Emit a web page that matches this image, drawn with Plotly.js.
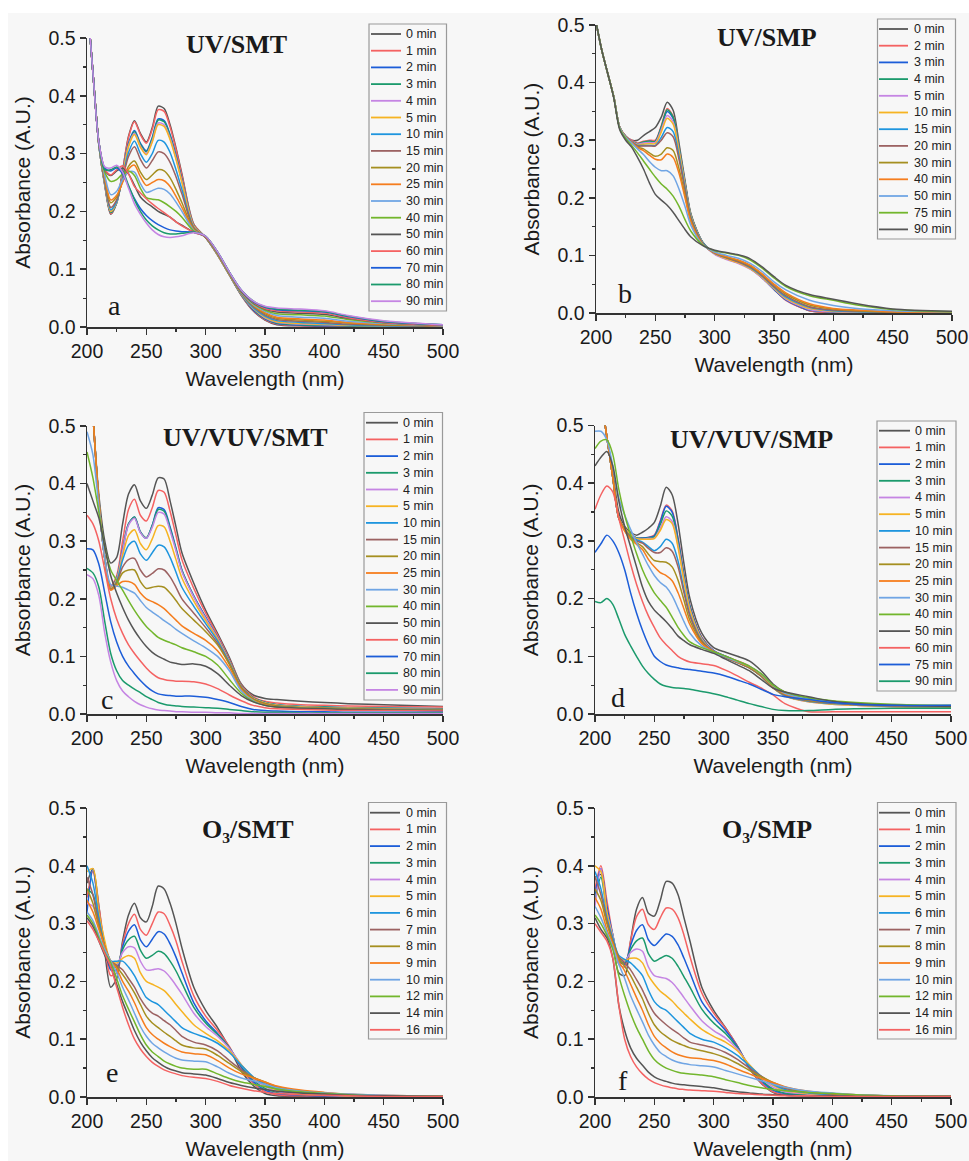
<!DOCTYPE html>
<html><head><meta charset="utf-8">
<script src="https://cdn.plot.ly/plotly-3.0.1.min.js"></script>
<style>html,body{margin:0;padding:0;background:#f7f7f7}</style>
</head><body><div id="chart" style="width:969px;height:1161px"></div>
<script>
// Wavelength grid (nm)
const WL = [200,205,210,215,220,225,230,235,240,245,250,255,260,265,270,275,280,290,300,310,320,330,340,350,360,380,400,420,450,500];

// ---------- (a) UV/SMT ----------
const labelsA = ['0 min','1 min','2 min','3 min','4 min','5 min','10 min','15 min','20 min','25 min','30 min','40 min','50 min','60 min','70 min','80 min','90 min'];
const a_0  = [0.57,0.44,0.315,0.245,0.195,0.215,0.27,0.33,0.357,0.335,0.32, 0.345,0.382,0.378,0.35,0.31,0.265, 0.178,0.155,0.125,0.09,0.055,0.028,0.012,0.004, 0.002,0.001,0.001,0.001,0.001];
const a_1  = [0.57,0.44,0.315,0.245,0.196,0.215,0.27,0.328,0.355,0.333,0.318, 0.342,0.376,0.373,0.346,0.307,0.262, 0.177,0.155,0.125,0.09,0.055,0.029,0.013,0.005, 0.002,0.002,0.001,0.001,0.001];
const a_2  = [0.57,0.44,0.315,0.247,0.198,0.215,0.265,0.318,0.34,0.318,0.305, 0.328,0.36,0.357,0.333,0.297,0.255, 0.175,0.155,0.125,0.09,0.056,0.03,0.014,0.006, 0.003,0.002,0.002,0.001,0.001];
const a_3  = [0.57,0.44,0.315,0.247,0.198,0.215,0.264,0.316,0.338,0.316,0.303, 0.326,0.358,0.355,0.331,0.295,0.254, 0.175,0.155,0.125,0.09,0.056,0.031,0.015,0.007, 0.004,0.003,0.002,0.001,0.001];
const a_4  = [0.57,0.44,0.315,0.248,0.2,0.216,0.263,0.314,0.335,0.313,0.3, 0.322,0.353,0.35,0.327,0.292,0.252, 0.174,0.155,0.125,0.09,0.057,0.032,0.016,0.008, 0.005,0.004,0.003,0.002,0.001];
const a_5  = [0.57,0.44,0.315,0.248,0.2,0.216,0.262,0.312,0.333,0.311,0.298, 0.32,0.35,0.347,0.324,0.29,0.25, 0.174,0.155,0.125,0.09,0.057,0.033,0.017,0.009, 0.006,0.005,0.003,0.002,0.001];
const a_10 = [0.57,0.44,0.316,0.25,0.203,0.217,0.258,0.302,0.322,0.3,0.285, 0.3,0.323,0.32,0.302,0.272,0.238, 0.172,0.155,0.126,0.091,0.058,0.034,0.019,0.011, 0.008,0.006,0.004,0.002,0.001];
const a_15 = [0.57,0.44,0.317,0.252,0.207,0.22,0.256,0.295,0.312,0.29,0.275, 0.288,0.303,0.3,0.285,0.26,0.23, 0.171,0.155,0.126,0.091,0.059,0.036,0.021,0.013, 0.01,0.008,0.005,0.003,0.001];
const a_20 = [0.57,0.44,0.318,0.256,0.215,0.225,0.252,0.278,0.287,0.268,0.255, 0.263,0.272,0.27,0.258,0.238,0.215, 0.169,0.155,0.127,0.092,0.06,0.037,0.023,0.015, 0.012,0.01,0.007,0.004,0.002];
const a_25 = [0.57,0.44,0.318,0.258,0.22,0.228,0.25,0.273,0.28,0.26,0.245, 0.25,0.255,0.253,0.243,0.226,0.207, 0.168,0.156,0.127,0.092,0.06,0.038,0.025,0.017, 0.014,0.012,0.008,0.005,0.002];
const a_30 = [0.57,0.44,0.319,0.262,0.229,0.235,0.255,0.268,0.268,0.248,0.233, 0.236,0.24,0.238,0.23,0.216,0.2, 0.167,0.156,0.128,0.093,0.061,0.039,0.027,0.02, 0.017,0.015,0.01,0.006,0.002];
const a_40 = [0.57,0.44,0.32,0.268,0.252,0.255,0.265,0.27,0.262,0.24,0.224, 0.221,0.22,0.215,0.208,0.2,0.19, 0.166,0.156,0.128,0.093,0.062,0.041,0.029,0.023, 0.021,0.019,0.013,0.007,0.003];
const a_50 = [0.57,0.44,0.32,0.272,0.262,0.27,0.275,0.265,0.245,0.225,0.215, 0.208,0.2,0.195,0.19,0.182,0.176, 0.164,0.156,0.129,0.094,0.062,0.042,0.031,0.026, 0.024,0.022,0.015,0.008,0.003];
const a_60 = [0.57,0.44,0.32,0.273,0.263,0.272,0.279,0.265,0.243,0.232,0.222, 0.213,0.205,0.198,0.19,0.182,0.175, 0.164,0.156,0.129,0.094,0.063,0.043,0.032,0.028, 0.026,0.024,0.016,0.008,0.003];
const a_70 = [0.57,0.44,0.32,0.275,0.27,0.275,0.265,0.243,0.222,0.205,0.193, 0.184,0.177,0.172,0.168,0.166,0.165, 0.164,0.157,0.13,0.095,0.064,0.044,0.034,0.03, 0.028,0.026,0.018,0.009,0.004];
const a_80 = [0.57,0.44,0.32,0.272,0.272,0.277,0.27,0.245,0.22,0.2,0.185, 0.175,0.168,0.163,0.161,0.161,0.162, 0.164,0.157,0.13,0.095,0.064,0.045,0.035,0.031, 0.029,0.027,0.019,0.01,0.004];
const a_90 = [0.57,0.44,0.32,0.277,0.275,0.28,0.268,0.24,0.213,0.195,0.18, 0.168,0.16,0.156,0.155,0.156,0.158, 0.163,0.157,0.13,0.095,0.064,0.045,0.036,0.033, 0.031,0.028,0.02,0.011,0.004];
const seriesA = [a_0,a_1,a_2,a_3,a_4,a_5,a_10,a_15,a_20,a_25,a_30,a_40,a_50,a_60,a_70,a_80,a_90];

// ---------- (b) UV/SMP ----------
const labelsB = ['0 min','2 min','3 min','4 min','5 min','10 min','15 min','20 min','30 min','40 min','50 min','75 min','90 min'];
const b_0  = [0.505,0.455,0.415,0.375,0.322,0.307,0.3,0.3,0.308,0.315,0.322, 0.34,0.366,0.352,0.294,0.23,0.172, 0.123,0.104,0.095,0.088,0.078,0.062,0.042,0.023, 0.004,0.001,0.001,0.001,0.001];
const b_2  = [0.505,0.455,0.415,0.375,0.322,0.307,0.3,0.295,0.298,0.3,0.3, 0.325,0.355,0.342,0.288,0.227,0.17, 0.122,0.103,0.094,0.087,0.077,0.061,0.041,0.022, 0.004,0.001,0.001,0.001,0.001];
const b_3  = [0.505,0.455,0.415,0.375,0.322,0.307,0.298,0.293,0.296,0.298,0.298, 0.322,0.35,0.338,0.285,0.225,0.169, 0.122,0.103,0.094,0.087,0.077,0.061,0.041,0.023, 0.005,0.002,0.001,0.001,0.001];
const b_4  = [0.505,0.455,0.415,0.375,0.322,0.307,0.298,0.294,0.297,0.298,0.298, 0.323,0.353,0.34,0.287,0.226,0.17, 0.122,0.103,0.094,0.087,0.077,0.062,0.042,0.024, 0.006,0.002,0.001,0.001,0.001];
const b_5  = [0.505,0.455,0.415,0.375,0.322,0.307,0.298,0.293,0.295,0.296,0.296, 0.318,0.343,0.332,0.282,0.223,0.168, 0.121,0.102,0.093,0.086,0.076,0.061,0.042,0.024, 0.006,0.002,0.001,0.001,0.001];
const b_10 = [0.505,0.455,0.415,0.375,0.322,0.306,0.297,0.292,0.293,0.294,0.294, 0.314,0.338,0.328,0.28,0.222,0.168, 0.121,0.103,0.094,0.087,0.077,0.062,0.043,0.026, 0.008,0.003,0.002,0.001,0.001];
const b_15 = [0.505,0.455,0.415,0.375,0.322,0.306,0.297,0.291,0.291,0.291,0.291, 0.305,0.322,0.315,0.272,0.218,0.166, 0.121,0.104,0.096,0.089,0.079,0.064,0.045,0.028, 0.01,0.004,0.002,0.001,0.001];
const b_20 = [0.505,0.455,0.415,0.375,0.322,0.306,0.297,0.29,0.29,0.29,0.29, 0.3,0.313,0.306,0.266,0.214,0.164, 0.12,0.104,0.096,0.089,0.08,0.065,0.046,0.03, 0.011,0.005,0.003,0.001,0.001];
const b_30 = [0.505,0.455,0.415,0.375,0.322,0.306,0.296,0.288,0.285,0.278,0.272, 0.276,0.287,0.282,0.25,0.205,0.16, 0.119,0.105,0.097,0.091,0.082,0.067,0.049,0.033, 0.014,0.007,0.004,0.002,0.001];
const b_40 = [0.505,0.455,0.415,0.375,0.322,0.306,0.296,0.287,0.282,0.274,0.267, 0.266,0.276,0.27,0.242,0.2,0.158, 0.119,0.105,0.098,0.092,0.083,0.068,0.05,0.035, 0.016,0.008,0.005,0.002,0.001];
const b_50 = [0.505,0.455,0.415,0.375,0.322,0.305,0.295,0.285,0.275,0.263,0.253, 0.247,0.247,0.238,0.215,0.185,0.152, 0.118,0.106,0.1,0.095,0.086,0.072,0.054,0.04, 0.022,0.013,0.008,0.004,0.002];
const b_75 = [0.505,0.455,0.415,0.374,0.32,0.303,0.291,0.278,0.264,0.25,0.236, 0.224,0.215,0.203,0.185,0.162,0.142, 0.118,0.108,0.104,0.1,0.092,0.078,0.061,0.046, 0.03,0.022,0.014,0.006,0.002];
const b_90 = [0.505,0.455,0.415,0.373,0.318,0.3,0.288,0.27,0.25,0.226,0.206, 0.196,0.187,0.175,0.16,0.145,0.132, 0.117,0.109,0.105,0.101,0.094,0.08,0.063,0.048, 0.032,0.024,0.016,0.007,0.003];
const seriesB = [b_0,b_2,b_3,b_4,b_5,b_10,b_15,b_20,b_30,b_40,b_50,b_75,b_90];

// ---------- (c) UV/VUV/SMT ----------
const labelsC = ['0 min','1 min','2 min','3 min','4 min','5 min','10 min','15 min','20 min','25 min','30 min','40 min','50 min','60 min','70 min','80 min','90 min'];
const c_0  = [0.7,0.52,0.38,0.3,0.262,0.272,0.33,0.382,0.398,0.37,0.357, 0.38,0.41,0.408,0.37,0.325,0.28, 0.227,0.18,0.14,0.098,0.052,0.033,0.027,0.025, 0.022,0.02,0.018,0.016,0.013];
const c_1  = [0.7,0.52,0.37,0.27,0.222,0.24,0.3,0.355,0.373,0.345,0.335, 0.358,0.388,0.385,0.352,0.31,0.268, 0.218,0.175,0.137,0.095,0.05,0.03,0.022,0.019, 0.016,0.015,0.014,0.013,0.012];
const c_2  = [0.7,0.52,0.37,0.27,0.218,0.235,0.285,0.33,0.342,0.316,0.305, 0.328,0.358,0.355,0.325,0.288,0.25, 0.205,0.168,0.133,0.092,0.048,0.028,0.02,0.016, 0.013,0.012,0.011,0.01,0.009];
const c_3  = [0.7,0.52,0.37,0.27,0.218,0.235,0.285,0.33,0.342,0.316,0.306, 0.327,0.355,0.352,0.322,0.286,0.249, 0.204,0.167,0.132,0.092,0.048,0.028,0.02,0.016, 0.013,0.012,0.011,0.01,0.009];
const c_4  = [0.7,0.52,0.37,0.27,0.218,0.234,0.283,0.328,0.34,0.315,0.305, 0.324,0.35,0.347,0.318,0.283,0.247, 0.203,0.166,0.132,0.091,0.047,0.027,0.019,0.015, 0.012,0.011,0.01,0.009,0.008];
const c_5  = [0.7,0.52,0.37,0.27,0.218,0.232,0.275,0.31,0.32,0.296,0.285, 0.304,0.327,0.325,0.3,0.268,0.236, 0.196,0.162,0.13,0.09,0.047,0.027,0.019,0.015, 0.012,0.011,0.01,0.009,0.008];
const c_10 = [0.7,0.52,0.37,0.27,0.216,0.23,0.267,0.293,0.3,0.278,0.267, 0.28,0.293,0.29,0.272,0.246,0.22, 0.187,0.157,0.127,0.089,0.046,0.026,0.018,0.014, 0.011,0.01,0.009,0.008,0.008];
const c_15 = [0.7,0.52,0.37,0.27,0.216,0.228,0.255,0.268,0.27,0.25,0.238, 0.244,0.252,0.25,0.238,0.22,0.2, 0.175,0.15,0.123,0.087,0.046,0.026,0.018,0.014, 0.011,0.01,0.009,0.008,0.008];
const c_20 = [0.7,0.52,0.37,0.27,0.216,0.226,0.245,0.25,0.25,0.23,0.218, 0.22,0.222,0.22,0.21,0.197,0.183, 0.163,0.143,0.12,0.086,0.045,0.026,0.018,0.014, 0.011,0.01,0.009,0.008,0.007];
const c_25 = [0.7,0.52,0.37,0.27,0.215,0.223,0.23,0.23,0.225,0.21,0.2, 0.195,0.19,0.183,0.173,0.163,0.153, 0.14,0.128,0.11,0.08,0.042,0.024,0.016,0.012, 0.01,0.009,0.008,0.007,0.007];
const c_30 = [0.49,0.45,0.36,0.27,0.225,0.222,0.22,0.215,0.21,0.197,0.185, 0.177,0.17,0.162,0.155,0.147,0.14, 0.127,0.115,0.1,0.075,0.04,0.023,0.015,0.012, 0.01,0.009,0.008,0.007,0.006];
const c_40 = [0.455,0.41,0.35,0.29,0.25,0.232,0.215,0.197,0.18,0.165,0.152, 0.142,0.133,0.128,0.124,0.12,0.115, 0.108,0.1,0.085,0.06,0.036,0.022,0.015,0.012, 0.01,0.009,0.008,0.007,0.006];
const c_50 = [0.4,0.37,0.34,0.29,0.24,0.21,0.185,0.163,0.145,0.13,0.117, 0.107,0.1,0.095,0.09,0.088,0.086, 0.087,0.083,0.07,0.05,0.032,0.021,0.015,0.012, 0.01,0.009,0.008,0.007,0.006];
const c_60 = [0.345,0.33,0.3,0.25,0.2,0.165,0.14,0.12,0.105,0.092,0.08, 0.07,0.063,0.06,0.058,0.057,0.057, 0.056,0.052,0.044,0.033,0.023,0.015,0.011,0.009, 0.008,0.007,0.006,0.006,0.005];
const c_70 = [0.287,0.285,0.26,0.21,0.16,0.125,0.1,0.083,0.07,0.058,0.048, 0.04,0.035,0.033,0.032,0.031,0.031, 0.031,0.029,0.025,0.02,0.013,0.008,0.006,0.005, 0.004,0.004,0.003,0.003,0.003];
const c_80 = [0.253,0.245,0.22,0.16,0.105,0.075,0.058,0.05,0.043,0.037,0.03, 0.025,0.02,0.017,0.015,0.014,0.013, 0.012,0.011,0.01,0.008,0.006,0.004,0.003,0.003, 0.002,0.002,0.002,0.002,0.002];
const c_90 = [0.242,0.235,0.205,0.14,0.09,0.058,0.04,0.03,0.022,0.016,0.012, 0.009,0.007,0.006,0.005,0.004,0.004, 0.003,0.003,0.002,0.002,0.001,0.001,0.001,0.001, 0.001,0.001,0.001,0.001,0.001];
const seriesC = [c_0,c_1,c_2,c_3,c_4,c_5,c_10,c_15,c_20,c_25,c_30,c_40,c_50,c_60,c_70,c_80,c_90];

// ---------- (d) UV/VUV/SMP ----------
const labelsD = ['0 min','1 min','2 min','3 min','4 min','5 min','10 min','15 min','20 min','25 min','30 min','40 min','50 min','60 min','75 min','90 min'];
const d_0  = [0.6,0.55,0.48,0.42,0.35,0.325,0.315,0.31,0.315,0.322,0.332, 0.36,0.393,0.38,0.33,0.26,0.2, 0.14,0.115,0.107,0.1,0.092,0.075,0.052,0.038, 0.027,0.022,0.018,0.015,0.013];
const d_1  = [0.6,0.55,0.48,0.41,0.34,0.322,0.312,0.305,0.305,0.306,0.31, 0.335,0.362,0.352,0.305,0.242,0.188, 0.133,0.11,0.1,0.092,0.083,0.068,0.047,0.032, 0.022,0.018,0.015,0.013,0.012];
const d_2  = [0.6,0.55,0.48,0.41,0.34,0.322,0.312,0.305,0.305,0.306,0.309, 0.333,0.36,0.35,0.303,0.24,0.187, 0.132,0.11,0.1,0.091,0.082,0.067,0.046,0.032, 0.022,0.018,0.016,0.014,0.013];
const d_3  = [0.6,0.55,0.48,0.41,0.34,0.322,0.312,0.305,0.304,0.305,0.307, 0.328,0.352,0.343,0.298,0.237,0.185, 0.131,0.109,0.099,0.09,0.081,0.066,0.046,0.032, 0.022,0.018,0.016,0.014,0.013];
const d_4  = [0.6,0.55,0.48,0.41,0.34,0.322,0.311,0.304,0.303,0.304,0.305, 0.322,0.342,0.334,0.292,0.233,0.182, 0.13,0.109,0.099,0.09,0.081,0.066,0.046,0.032, 0.021,0.017,0.015,0.013,0.012];
const d_5  = [0.6,0.55,0.48,0.41,0.34,0.322,0.311,0.304,0.303,0.303,0.304, 0.318,0.337,0.33,0.288,0.23,0.18, 0.129,0.108,0.098,0.089,0.08,0.065,0.045,0.031, 0.021,0.017,0.015,0.013,0.012];
const d_10 = [0.6,0.55,0.48,0.41,0.34,0.32,0.308,0.302,0.298,0.29,0.283, 0.29,0.303,0.296,0.265,0.215,0.172, 0.127,0.108,0.098,0.089,0.08,0.066,0.046,0.032, 0.022,0.018,0.016,0.014,0.013];
const d_15 = [0.6,0.55,0.48,0.41,0.34,0.32,0.307,0.3,0.296,0.287,0.28, 0.28,0.288,0.282,0.255,0.21,0.17, 0.126,0.108,0.098,0.089,0.08,0.066,0.046,0.033, 0.023,0.019,0.016,0.014,0.013];
const d_20 = [0.6,0.55,0.48,0.41,0.34,0.318,0.305,0.297,0.29,0.277,0.266, 0.264,0.263,0.255,0.232,0.197,0.162, 0.124,0.108,0.099,0.09,0.081,0.067,0.047,0.034, 0.024,0.02,0.017,0.015,0.013];
const d_25 = [0.6,0.55,0.48,0.41,0.34,0.317,0.303,0.294,0.285,0.268,0.255, 0.245,0.24,0.231,0.21,0.182,0.155, 0.122,0.108,0.099,0.09,0.082,0.068,0.048,0.035, 0.025,0.021,0.018,0.015,0.014];
const d_30 = [0.49,0.49,0.475,0.43,0.375,0.345,0.32,0.297,0.277,0.257,0.24, 0.228,0.22,0.205,0.183,0.16,0.14, 0.118,0.107,0.099,0.091,0.083,0.069,0.049,0.036, 0.026,0.021,0.018,0.015,0.014];
const d_40 = [0.46,0.473,0.475,0.45,0.39,0.345,0.31,0.278,0.25,0.228,0.21, 0.197,0.185,0.168,0.15,0.136,0.125, 0.115,0.108,0.1,0.092,0.083,0.07,0.05,0.038, 0.028,0.023,0.02,0.017,0.015];
const d_50 = [0.43,0.445,0.455,0.43,0.37,0.325,0.29,0.255,0.22,0.195,0.18, 0.17,0.16,0.148,0.135,0.127,0.12, 0.112,0.105,0.095,0.085,0.075,0.06,0.045,0.038, 0.03,0.022,0.018,0.015,0.013];
const d_60 = [0.355,0.38,0.395,0.385,0.34,0.3,0.26,0.225,0.195,0.17,0.15, 0.132,0.12,0.11,0.1,0.094,0.09, 0.087,0.084,0.076,0.066,0.055,0.045,0.033,0.018, 0.004,0.004,0.004,0.004,0.004];
const d_75 = [0.28,0.295,0.31,0.3,0.28,0.25,0.21,0.175,0.145,0.12,0.1, 0.091,0.085,0.082,0.08,0.078,0.077, 0.074,0.071,0.066,0.059,0.052,0.043,0.034,0.03, 0.025,0.02,0.017,0.015,0.015];
const d_90 = [0.195,0.193,0.2,0.19,0.165,0.138,0.118,0.1,0.083,0.07,0.06, 0.052,0.048,0.046,0.045,0.044,0.043, 0.039,0.035,0.03,0.024,0.018,0.013,0.008,0.006, 0.006,0.008,0.009,0.01,0.01];
const seriesD = [d_0,d_1,d_2,d_3,d_4,d_5,d_10,d_15,d_20,d_25,d_30,d_40,d_50,d_60,d_75,d_90];

// ---------- (e) O3/SMT ----------
const labelsE = ['0 min','1 min','2 min','3 min','4 min','5 min','6 min','7 min','8 min','9 min','10 min','12 min','14 min','16 min'];
const e_0  = [0.37,0.395,0.33,0.25,0.19,0.205,0.27,0.315,0.335,0.31,0.303, 0.33,0.365,0.36,0.335,0.3,0.258, 0.19,0.15,0.12,0.085,0.045,0.02,0.006,0.002, 0.001,0.001,0.001,0.001,0.001];
const e_1  = [0.345,0.39,0.33,0.26,0.21,0.215,0.265,0.3,0.316,0.29,0.28, 0.3,0.32,0.317,0.297,0.27,0.235, 0.175,0.14,0.115,0.087,0.05,0.024,0.009,0.004, 0.002,0.002,0.001,0.001,0.001];
const e_2  = [0.32,0.395,0.32,0.26,0.22,0.22,0.26,0.287,0.298,0.272,0.26, 0.273,0.286,0.282,0.265,0.242,0.215, 0.163,0.132,0.11,0.085,0.052,0.027,0.012,0.006, 0.003,0.002,0.002,0.001,0.001];
const e_3  = [0.36,0.35,0.3,0.26,0.225,0.225,0.255,0.272,0.278,0.254,0.24, 0.245,0.252,0.248,0.235,0.218,0.197, 0.155,0.128,0.108,0.085,0.054,0.03,0.015,0.008, 0.004,0.003,0.002,0.001,0.001];
const e_4  = [0.335,0.33,0.295,0.26,0.228,0.228,0.25,0.26,0.258,0.235,0.22, 0.22,0.222,0.218,0.207,0.193,0.178, 0.145,0.122,0.105,0.084,0.056,0.032,0.018,0.01, 0.005,0.003,0.002,0.001,0.001];
const e_5  = [0.39,0.395,0.32,0.27,0.235,0.232,0.24,0.245,0.24,0.215,0.2, 0.195,0.19,0.184,0.173,0.16,0.148, 0.125,0.11,0.097,0.08,0.056,0.034,0.02,0.012, 0.006,0.004,0.002,0.001,0.001];
const e_6  = [0.4,0.37,0.31,0.26,0.235,0.235,0.235,0.225,0.21,0.19,0.172, 0.165,0.16,0.15,0.14,0.13,0.12, 0.11,0.103,0.093,0.077,0.055,0.035,0.022,0.014, 0.008,0.005,0.003,0.002,0.001];
const e_7  = [0.38,0.35,0.3,0.26,0.235,0.228,0.22,0.205,0.19,0.17,0.155, 0.145,0.14,0.132,0.125,0.115,0.105, 0.095,0.09,0.08,0.063,0.047,0.034,0.025,0.017, 0.01,0.006,0.004,0.002,0.001];
const e_8  = [0.36,0.335,0.295,0.26,0.235,0.225,0.212,0.197,0.18,0.16,0.14, 0.128,0.12,0.112,0.105,0.097,0.09, 0.085,0.083,0.072,0.058,0.044,0.034,0.026,0.018, 0.011,0.007,0.004,0.002,0.001];
const e_9  = [0.34,0.32,0.29,0.26,0.235,0.222,0.2,0.183,0.163,0.14,0.12, 0.108,0.1,0.093,0.087,0.082,0.078, 0.075,0.073,0.063,0.05,0.04,0.033,0.026,0.019, 0.012,0.008,0.005,0.003,0.001];
const e_10 = [0.32,0.305,0.28,0.255,0.235,0.215,0.19,0.168,0.145,0.122,0.105, 0.093,0.085,0.078,0.072,0.067,0.064, 0.062,0.061,0.052,0.041,0.033,0.028,0.022,0.016, 0.01,0.007,0.005,0.003,0.001];
const e_12 = [0.315,0.3,0.275,0.25,0.232,0.205,0.175,0.152,0.13,0.108,0.09, 0.078,0.07,0.062,0.057,0.053,0.05, 0.048,0.048,0.04,0.032,0.026,0.022,0.018,0.014, 0.009,0.006,0.004,0.002,0.001];
const e_14 = [0.31,0.295,0.27,0.245,0.225,0.195,0.165,0.14,0.115,0.095,0.08, 0.068,0.06,0.053,0.048,0.045,0.042, 0.04,0.038,0.032,0.025,0.02,0.016,0.013,0.01, 0.007,0.005,0.003,0.002,0.001];
const e_16 = [0.305,0.29,0.27,0.248,0.225,0.19,0.155,0.125,0.1,0.083,0.07, 0.06,0.053,0.047,0.043,0.04,0.037, 0.034,0.032,0.027,0.02,0.015,0.011,0.008,0.006, 0.004,0.003,0.002,0.001,0.001];
const seriesE = [e_0,e_1,e_2,e_3,e_4,e_5,e_6,e_7,e_8,e_9,e_10,e_12,e_14,e_16];

// ---------- (f) O3/SMP ----------
const labelsF = ['0 min','1 min','2 min','3 min','4 min','5 min','6 min','7 min','8 min','9 min','10 min','12 min','14 min','16 min'];
const f_0  = [0.38,0.385,0.33,0.27,0.215,0.21,0.27,0.325,0.345,0.318,0.313, 0.34,0.373,0.37,0.35,0.31,0.27, 0.19,0.15,0.12,0.088,0.05,0.024,0.008,0.003, 0.002,0.002,0.001,0.001,0.001];
const f_1  = [0.36,0.4,0.34,0.28,0.23,0.225,0.27,0.312,0.325,0.298,0.29, 0.31,0.327,0.325,0.31,0.28,0.243, 0.18,0.145,0.119,0.088,0.051,0.025,0.009,0.004, 0.002,0.002,0.001,0.001,0.001];
const f_2  = [0.35,0.395,0.33,0.28,0.235,0.23,0.262,0.288,0.298,0.272,0.262, 0.272,0.282,0.278,0.263,0.24,0.215, 0.165,0.138,0.115,0.087,0.052,0.028,0.012,0.006, 0.003,0.002,0.001,0.001,0.001];
const f_3  = [0.34,0.38,0.32,0.28,0.238,0.232,0.255,0.27,0.275,0.248,0.235, 0.24,0.245,0.24,0.226,0.208,0.19, 0.152,0.128,0.11,0.085,0.053,0.03,0.014,0.007, 0.004,0.003,0.002,0.001,0.001];
const f_4  = [0.33,0.395,0.32,0.28,0.24,0.235,0.25,0.256,0.252,0.225,0.21, 0.207,0.205,0.198,0.186,0.172,0.158, 0.132,0.115,0.102,0.083,0.055,0.033,0.017,0.009, 0.005,0.003,0.002,0.001,0.001];
const f_5  = [0.4,0.39,0.32,0.275,0.242,0.237,0.24,0.24,0.232,0.21,0.195, 0.183,0.175,0.166,0.155,0.145,0.135, 0.117,0.105,0.095,0.08,0.056,0.035,0.02,0.011, 0.006,0.004,0.002,0.001,0.001];
const f_6  = [0.39,0.36,0.31,0.275,0.245,0.238,0.232,0.222,0.21,0.185,0.165, 0.155,0.15,0.14,0.13,0.12,0.11, 0.1,0.095,0.085,0.072,0.054,0.036,0.022,0.013, 0.007,0.004,0.003,0.002,0.001];
const f_7  = [0.38,0.35,0.305,0.27,0.243,0.232,0.22,0.203,0.185,0.163,0.145, 0.134,0.125,0.117,0.11,0.102,0.095, 0.09,0.085,0.077,0.065,0.05,0.036,0.024,0.015, 0.008,0.005,0.003,0.002,0.001];
const f_8  = [0.36,0.34,0.3,0.268,0.24,0.226,0.21,0.19,0.17,0.145,0.125, 0.113,0.105,0.098,0.093,0.089,0.085, 0.08,0.075,0.068,0.058,0.046,0.035,0.025,0.017, 0.009,0.006,0.003,0.002,0.001];
const f_9  = [0.345,0.325,0.29,0.265,0.235,0.218,0.195,0.172,0.15,0.125,0.105, 0.093,0.085,0.078,0.073,0.07,0.068, 0.066,0.063,0.057,0.048,0.04,0.032,0.025,0.018, 0.01,0.006,0.004,0.002,0.001];
const f_10 = [0.33,0.31,0.285,0.26,0.23,0.205,0.175,0.152,0.13,0.107,0.09, 0.077,0.07,0.064,0.06,0.058,0.056, 0.054,0.052,0.046,0.04,0.034,0.028,0.022,0.017, 0.01,0.007,0.004,0.002,0.001];
const f_12 = [0.315,0.3,0.28,0.255,0.21,0.175,0.145,0.12,0.1,0.08,0.065, 0.056,0.05,0.046,0.043,0.041,0.04, 0.038,0.035,0.03,0.025,0.02,0.016,0.013,0.011, 0.008,0.006,0.004,0.002,0.001];
const f_14 = [0.31,0.29,0.275,0.24,0.16,0.115,0.085,0.067,0.055,0.043,0.035, 0.03,0.027,0.024,0.022,0.021,0.02, 0.018,0.016,0.012,0.009,0.007,0.005,0.004,0.003, 0.002,0.002,0.001,0.001,0.001];
const f_16 = [0.3,0.285,0.27,0.24,0.16,0.1,0.07,0.052,0.04,0.031,0.025, 0.021,0.018,0.016,0.014,0.013,0.012, 0.011,0.01,0.008,0.006,0.005,0.004,0.003,0.002, 0.002,0.001,0.001,0.001,0.001];
const seriesF = [f_0,f_1,f_2,f_3,f_4,f_5,f_6,f_7,f_8,f_9,f_10,f_12,f_14,f_16];

const panelTitles = ['UV/SMT','UV/SMP','UV/VUV/SMT','UV/VUV/SMP','O\u2083/SMT','O\u2083/SMP'];
const panelLetters = ['a','b','c','d','e','f'];
const xTitle = 'Wavelength (nm)';
const yTitle = 'Absorbance (A.U.)';

// ---------- styling / layout ----------
const PAL = ['#555555','#F46262','#1C5DD8','#1B9A6C','#C585E3','#F6B322','#1E95DE','#9C6262','#A58F20','#F57D1E','#70A5E4','#72B62C','#555555','#F46262','#1C5DD8','#1B9A6C','#C585E3'];
const W = 969, H = 1161;
const px = x => x / W, py = y => 1 - y / H;

const panels = [
  {series: seriesA, labels: labelsA, xd:[87,443], yd:[38,327],
   title:[236,44], letter:[114,305], leg:{l:369,t:24,r:446.5,b:311,y0:34,lx0:371,lx1:401,tx:404}},
  {series: seriesB, labels: labelsB, xd:[596,952], yd:[25,313],
   title:[767,37], letter:[625,294], leg:{l:877.5,t:19,r:955.5,b:239,y0:29,lx0:879,lx1:908,tx:912}},
  {series: seriesC, labels: labelsC, xd:[87,443], yd:[426,714],
   title:[245,438], letter:[107,699], leg:{l:364,t:412.5,r:442.5,b:700,y0:422.7,lx0:366,lx1:398,tx:401}},
  {series: seriesD, labels: labelsD, xd:[595,951], yd:[425.5,714],
   title:[751,439], letter:[618,697], leg:{l:877,t:421,r:956,b:691,y0:430.7,lx0:879,lx1:910,tx:913}},
  {series: seriesE, labels: labelsE, xd:[87,443], yd:[808,1097],
   title:[248,830], letter:[112,1072], leg:{l:368.5,t:802.5,r:446.5,b:1039,y0:812.7,lx0:370,lx1:400,tx:404}},
  {series: seriesF, labels: labelsF, xd:[595,951], yd:[808,1097],
   title:[767,830], letter:[623,1080], leg:{l:877.5,t:802.5,r:956,b:1039,y0:812.7,lx0:879,lx1:910,tx:913}}
];
const LEG_STEP = 16.7;

const traces = [];
const layout = {
  width: W, height: H, margin: {l:0, r:0, t:0, b:0},
  paper_bgcolor: '#f7f7f7', plot_bgcolor: '#f7f7f7',
  showlegend: false,
  font: {family: 'Liberation Sans, Arial, sans-serif', color: '#1a1a1a'},
  annotations: [], shapes: [
    {type:'rect', xref:'paper', yref:'paper', x0:0, x1:1, y0:py(13), y1:1, fillcolor:'#ffffff', line:{width:0}, layer:'below'},
    {type:'rect', xref:'paper', yref:'paper', x0:0, x1:px(8), y0:0, y1:1, fillcolor:'#ffffff', line:{width:0}, layer:'below'}
  ]
};

const tickFont = {family: 'Liberation Sans, Arial, sans-serif', size: 19.5, color: '#1a1a1a'};
const titleFont = {family: 'Liberation Sans, Arial, sans-serif', size: 21, color: '#1a1a1a'};

panels.forEach((p, k) => {
  const n = k + 1;
  const xa = 'x' + (n === 1 ? '' : n), ya = 'y' + (n === 1 ? '' : n);
  p.series.forEach((s, i) => {
    traces.push({x: WL, y: s, xaxis: xa, yaxis: ya, type: 'scatter', mode: 'lines',
      name: p.labels[i], hoverinfo: 'skip',
      line: {color: PAL[i], width: 1.5, shape: 'spline', smoothing: 0.8}});
  });
  const common = {showgrid:false, zeroline:false, showline:true, linecolor:'#333', linewidth:1.5,
    ticks:'outside', ticklen:6, tickwidth:1.5, tickcolor:'#333', tickfont: tickFont, fixedrange:true};
  layout['xaxis' + (n === 1 ? '' : n)] = Object.assign({}, common, {
    domain: [px(p.xd[0]), px(p.xd[1])], range: [200, 500], tick0: 200, dtick: 50,
    anchor: ya, minor: {dtick: 25, ticks:'outside', ticklen:3, tickwidth:1.2, tickcolor:'#333', showgrid:false},
    title: {text: xTitle, font: titleFont, standoff: 10}
  });
  layout['yaxis' + (n === 1 ? '' : n)] = Object.assign({}, common, {
    domain: [py(p.yd[1]), py(p.yd[0])], range: [0, 0.5], tick0: 0, dtick: 0.1, tickformat: '.1f',
    anchor: xa, minor: {dtick: 0.05, ticks:'outside', ticklen:3, tickwidth:1.2, tickcolor:'#333', showgrid:false},
    title: {text: yTitle, font: titleFont, standoff: 12}
  });
  // panel title
  layout.annotations.push({xref:'paper', yref:'paper', x: px(p.title[0]), y: py(p.title[1]),
    xanchor:'center', yanchor:'middle', showarrow:false, text: '<b>' + panelTitles[k] + '</b>',
    font: {family:'Liberation Serif, Times New Roman, serif', size: 26, color:'#1a1a1a'}});
  // panel letter
  layout.annotations.push({xref:'paper', yref:'paper', x: px(p.letter[0]), y: py(p.letter[1]),
    xanchor:'center', yanchor:'middle', showarrow:false, text: panelLetters[k],
    font: {family:'Liberation Serif, Times New Roman, serif', size: 28, color:'#1a1a1a'}});
  // legend box
  const L = p.leg;
  layout.shapes.push({type:'rect', xref:'paper', yref:'paper', x0: px(L.l), x1: px(L.r), y0: py(L.b), y1: py(L.t),
    line:{color:'#9a9a9a', width:1.2}, fillcolor:'rgba(0,0,0,0)'});
  p.labels.forEach((lab, i) => {
    const yy = L.y0 + i * LEG_STEP;
    layout.shapes.push({type:'line', xref:'paper', yref:'paper', x0: px(L.lx0), x1: px(L.lx1), y0: py(yy), y1: py(yy),
      line:{color: PAL[i], width: 1.8}});
    layout.annotations.push({xref:'paper', yref:'paper', x: px(L.tx), y: py(yy), xanchor:'left', yanchor:'middle',
      showarrow:false, text: lab, font:{family:'Liberation Sans, Arial, sans-serif', size: 12.5, color:'#222'}});
  });
});

Plotly.newPlot('chart', traces, layout, {displayModeBar:false, staticPlot:true});
</script>
</body></html>
